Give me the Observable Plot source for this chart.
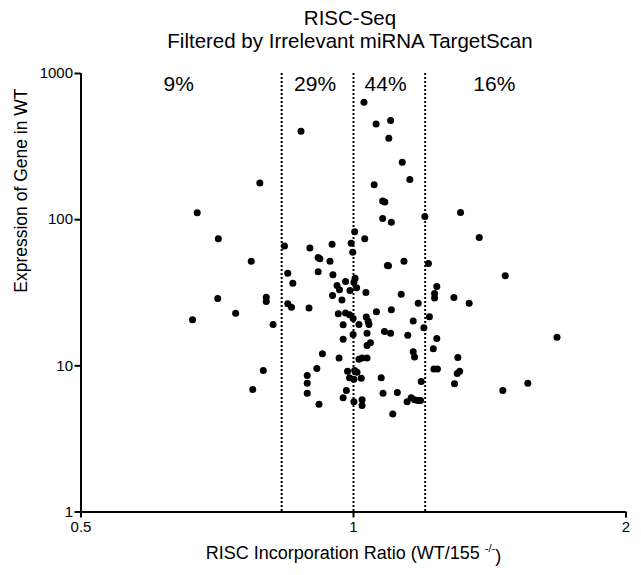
<!DOCTYPE html>
<html>
<head>
<meta charset="utf-8">
<script src="https://cdn.jsdelivr.net/npm/d3@7"></script>
<script src="https://cdn.jsdelivr.net/npm/@observablehq/plot@0.6"></script>
<style>
  html, body { margin: 0; padding: 0; background: white; }
  body { width: 641px; height: 575px; overflow: hidden; font-family: 'Liberation Sans', Arial, sans-serif; }
  #title { box-sizing: border-box; width: 641px; height: 56px; padding-top: 6px; padding-left: 59px;
           text-align: center; font-size: 20.5px; line-height: 23px; color: black; }
  #chart svg { display: block; }
</style>
</head>
<body>
<div id="title"><div>RISC-Seq</div><div>Filtered by Irrelevant miRNA TargetScan</div></div>
<div id="chart"></div>
<script>
// RISC incorporation ratio (WT / 155-/-) for each gene
const ratio = [
  0.875, 0.788, 0.672, 1.027, 1.059, 1.099, 1.094, 1.132, 1.154, 1.054,
  1.077, 1.083, 1.077, 1.101, 1.199, 1.313, 0.709, 0.771, 0.839, 0.895,
  0.947, 0.994, 0.914, 0.918, 0.942, 0.846, 0.857, 0.914, 0.949, 0.980,
  0.959, 0.965, 0.991, 0.948, 0.971, 0.708, 0.801, 0.801, 0.846, 0.854,
  0.893, 0.741, 0.664, 0.962, 0.980, 0.990, 0.999, 1.003, 1.029, 0.998,
  1.377, 1.090, 1.093, 1.137, 1.210, 1.471, 1.004, 1.001, 1.008, 1.032,
  1.129, 1.236, 1.229, 1.229, 1.291, 1.342, 1.179, 1.101, 1.060, 1.033,
  1.213, 1.164, 1.038, 1.040, 0.974, 1.014, 1.196, 1.082, 1.099, 1.035,
  0.999, 1.148, 1.236, 0.974, 1.044, 1.035, 1.225, 1.164, 1.168, 0.964,
  1.014, 1.022, 1.035, 1.304, 1.227, 1.238, 1.302, 1.310, 0.985, 1.003,
  1.009, 0.990, 1.001, 1.020, 1.073, 1.188, 1.293, 1.558, 0.982, 1.078,
  1.118, 1.462, 0.974, 1.001, 1.022, 1.022, 1.146, 1.158, 1.168, 1.178,
  1.186, 1.105, 1.678, 0.815, 0.924, 0.911, 0.795, 0.889, 0.889, 0.889,
  0.774, 0.916
];
// Expression of gene in WT
const expression = [
  403, 178, 111.5, 636, 452, 477, 361, 247, 188, 173,
  134, 132, 102, 96, 105, 112, 74, 52, 66, 64,
  68, 69, 55, 54, 52, 43, 36.7, 44, 42, 37.7,
  35.4, 33.1, 32.7, 30.3, 28.2, 28.9, 29.5, 27.5, 26.6, 25.2,
  24.9, 22.9, 20.7, 22.7, 23.0, 22.4, 21.1, 82.6, 73.9, 59.9,
  75.5, 48.6, 48.3, 51.9, 50.1, 41.3, 39.7, 37.3, 34.2, 31.7,
  30.9, 34.9, 31.2, 29.1, 29.3, 26.8, 26.8, 24.2, 23.4, 21.6,
  21.7, 20.3, 20.2, 19.2, 19.1, 19.2, 18.2, 17.2, 16.7, 16.7,
  16.4, 16.2, 15.4, 15.2, 14.4, 13.8, 13.1, 12.5, 11.5, 11.3,
  11.1, 11.3, 11.3, 11.4, 9.51, 9.51, 8.86, 9.19, 9.19, 9.29,
  9.04, 8.28, 8.10, 8.22, 8.28, 7.81, 7.53, 7.60, 6.78, 6.50,
  6.57, 6.78, 6.04, 5.67, 5.85, 5.35, 5.67, 6.04, 5.85, 5.79,
  5.79, 4.69, 15.7, 19.2, 12.1, 9.58, 9.29, 8.58, 7.60, 6.50,
  6.88, 5.46
];
const cutoffs = [0.833, 1, 1.2];
const regionLabels = ["9%", "29%", "44%", "16%"];
const regionLabelRatio = [0.641, 0.907, 1.085, 1.431];
const xTicks = [0.5, 1, 2];
const yTicks = [1, 10, 100, 1000];
const yLabel = "Expression of Gene in WT";
const xLabelMain = "RISC Incorporation Ratio (WT/155 ";
const xLabelSup = "-/-";
const xLabelEnd = ")";
const xLabelFull = xLabelMain + xLabelSup + xLabelEnd;

const points = ratio.map((r, i) => ({ratio: r, expression: expression[i]}));

const chart = Plot.plot({
  width: 641,
  height: 519,
  marginTop: 17,
  marginBottom: 63.5,
  marginLeft: 80.5,
  marginRight: 15.5,
  style: {fontFamily: "'Liberation Sans', Arial, sans-serif", fontSize: "15px", color: "black", background: "white", overflow: "visible"},
  x: {type: "log", domain: [0.5, 2]},
  y: {type: "log", domain: [1, 1000]},
  marks: [
    Plot.ruleX(cutoffs, {stroke: "black", strokeWidth: 2, strokeDasharray: "2,2"}),
    Plot.dot(points, {x: "ratio", y: "expression", r: 3.5, fill: "black", stroke: "none"}),
    Plot.ruleX([0.5], {stroke: "black", strokeWidth: 2}),
    Plot.ruleY([1], {stroke: "black", strokeWidth: 2}),
    Plot.axisX({ticks: xTicks, tickFormat: d => String(d), tickSize: 6, tickPadding: 3, strokeWidth: 2, label: null}),
    Plot.axisY({ticks: yTicks, tickFormat: d => String(d), tickSize: 6, tickPadding: 2, strokeWidth: 2, label: null}),
    Plot.text(regionLabels, {x: regionLabelRatio, text: d => d, frameAnchor: "top", dy: 10.5, lineAnchor: "middle", fontSize: 21}),
    Plot.text([yLabel], {text: d => d, frameAnchor: "left", dx: -60, rotate: -90, fontSize: 17.5}),
    Plot.text([xLabelFull], {text: d => d, frameAnchor: "bottom", dy: 46.5, fontSize: 18})
  ]
});

d3.select(chart).selectAll("text")
  .filter(function() { return this.textContent === xLabelFull; })
  .each(function() {
    const t = d3.select(this);
    t.text(null);
    t.append("tspan").text(xLabelMain);
    t.append("tspan").attr("dy", "-0.55em").attr("font-size", "11px").text(xLabelSup);
    t.append("tspan").attr("dy", "0.55em").text(xLabelEnd);
  });

document.getElementById("chart").appendChild(chart);
</script>
</body>
</html>
